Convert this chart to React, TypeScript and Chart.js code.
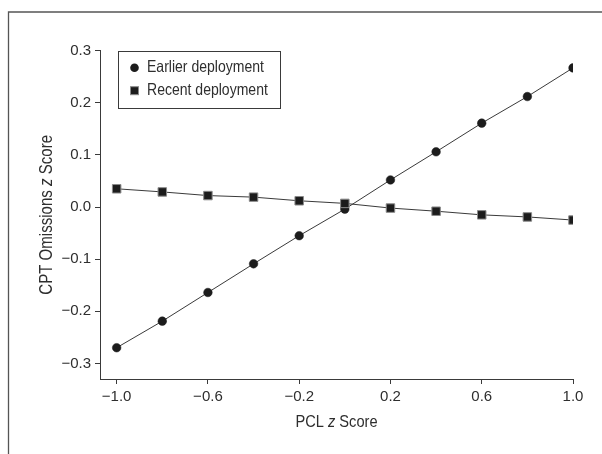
import React, { useEffect, useRef } from "react";
import { Chart, registerables } from "chart.js";

Chart.register(...registerables);

// ---- data ----
const pclZ = [-1.0, -0.8, -0.6, -0.4, -0.2, 0.0, 0.2, 0.4, 0.6, 0.8, 1.0];
const earlierDeployment = [-0.27, -0.219, -0.164, -0.109, -0.055, -0.004, 0.052, 0.106, 0.161, 0.212, 0.267];
const recentDeployment = [0.035, 0.029, 0.022, 0.019, 0.012, 0.007, -0.002, -0.008, -0.015, -0.019, -0.025];
const xTickValues = [-1.0, -0.6, -0.2, 0.2, 0.6, 1.0];
const yTickValues = [-0.3, -0.2, -0.1, 0.0, 0.1, 0.2, 0.3];
const seriesLabels = ["Earlier deployment", "Recent deployment"];
const xTitleParts = ["PCL ", "z", " Score"];
const yTitleParts = ["CPT Omissions ", "z", " Score"];

const FONT = "'Liberation Sans', Arial, Helvetica, sans-serif";
const TEXT = "#2e2e2e";
const LINE = "#3a3a3a";
const MARK = "#1c1c1c";

const fmt = (v: number) => {
  const s = Number(v).toFixed(1);
  return s.startsWith("-") ? "\u2212" + s.slice(1) : s;
};

// draws condensed text (horizontally squeezed) with an italic middle part, centred on (cx, cy)
function drawMixed(ctx: CanvasRenderingContext2D, parts: string[], size: number, squeeze: number, cx: number, cy: number) {
  const fonts = parts.map((_, i) => (i === 1 ? `italic ${size}px ${FONT}` : `${size}px ${FONT}`));
  const widths = parts.map((p, i) => {
    ctx.font = fonts[i];
    return ctx.measureText(p).width;
  });
  const total = widths.reduce((a, b) => a + b, 0);
  ctx.save();
  ctx.translate(cx, cy);
  ctx.scale(squeeze, 1);
  let x = -total / 2;
  ctx.textAlign = "left";
  ctx.textBaseline = "middle";
  ctx.fillStyle = TEXT;
  parts.forEach((p, i) => {
    ctx.font = fonts[i];
    ctx.fillText(p, x, 0);
    x += widths[i];
  });
  ctx.restore();
}

function drawSqueezed(ctx: CanvasRenderingContext2D, text: string, size: number, squeeze: number, x: number, y: number) {
  ctx.save();
  ctx.translate(x, y);
  ctx.scale(squeeze, 1);
  ctx.font = `${size}px ${FONT}`;
  ctx.fillStyle = TEXT;
  ctx.textAlign = "left";
  ctx.textBaseline = "middle";
  ctx.fillText(text, 0, 0);
  ctx.restore();
}

const decorPlugin = {
  id: "decor",
  beforeDraw(chart: any) {
    const ctx = chart.ctx as CanvasRenderingContext2D;
    ctx.save();
    ctx.fillStyle = "#ffffff";
    ctx.fillRect(0, 0, chart.width, chart.height);
    ctx.strokeStyle = "#555555";
    ctx.lineWidth = 1.3;
    ctx.beginPath();
    ctx.moveTo(8.5, chart.height);
    ctx.lineTo(8.5, 12);
    ctx.lineTo(chart.width, 12);
    ctx.stroke();
    ctx.restore();
  },
  afterDraw(chart: any) {
    const ctx = chart.ctx as CanvasRenderingContext2D;
    const a = chart.chartArea;
    ctx.save();
    // axis titles
    drawMixed(ctx, xTitleParts, 17, 0.86, (a.left + a.right) / 2, a.bottom + 43);
    ctx.save();
    ctx.translate(47, (a.top + a.bottom) / 2);
    ctx.rotate(-Math.PI / 2);
    drawMixed(ctx, yTitleParts, 17.5, 0.86, 0, 0);
    ctx.restore();

    // legend
    const lx = a.left + 17.5;
    const ly = a.top;
    const lw = 162;
    const lh = 57;
    ctx.fillStyle = "#ffffff";
    ctx.fillRect(lx, ly, lw, lh);
    ctx.strokeStyle = LINE;
    ctx.lineWidth = 1;
    ctx.strokeRect(Math.round(lx) + 0.5, Math.round(ly) + 0.5, lw, lh);
    const rows = [ly + 17, ly + 40];
    const mx = lx + 17;
    ctx.fillStyle = MARK;
    ctx.beginPath();
    ctx.arc(mx, rows[0], 4.3, 0, Math.PI * 2);
    ctx.fill();
    ctx.fillRect(mx - 4, rows[1] - 4, 8, 8);
    ctx.strokeStyle = "#8a8a8a";
    ctx.strokeRect(mx - 4, rows[1] - 4, 8, 8);
    drawSqueezed(ctx, seriesLabels[0], 16.5, 0.85, lx + 29.5, rows[0]);
    drawSqueezed(ctx, seriesLabels[1], 16.5, 0.85, lx + 29.5, rows[1]);
    ctx.restore();
  },
};

export default function App() {
  const ref = useRef<HTMLCanvasElement | null>(null);
  useEffect(() => {
    if (!ref.current) return;
    const tickFont = { family: FONT, size: 15 };
    const chart = new Chart(ref.current, {
      type: "line",
      data: {
        datasets: [
          {
            label: seriesLabels[0],
            data: pclZ.map((x, i) => ({ x, y: earlierDeployment[i] })),
            borderColor: LINE,
            borderWidth: 1,
            pointStyle: "circle",
            pointRadius: 4.3,
            pointBackgroundColor: MARK,
            pointBorderColor: MARK,
            pointBorderWidth: 0.5,
            order: 2,
          },
          {
            label: seriesLabels[1],
            data: pclZ.map((x, i) => ({ x, y: recentDeployment[i] })),
            borderColor: LINE,
            borderWidth: 1,
            pointStyle: "rect",
            pointRadius: 6,
            pointBackgroundColor: MARK,
            pointBorderColor: "#8a8a8a",
            pointBorderWidth: 1,
            order: 1,
          },
        ],
      },
      options: {
        responsive: false,
        animation: false,
        devicePixelRatio: 1,
        layout: { padding: { left: 0, right: 29, top: 50.7, bottom: 0 } },
        plugins: { legend: { display: false }, tooltip: { enabled: false } },
        scales: {
          x: {
            type: "linear",
            min: -1.073,
            max: 1.0,
            afterBuildTicks: (s: any) => {
              s.ticks = xTickValues.map((v) => ({ value: v }));
            },
            afterFit: (s: any) => {
              s.height = 75;
            },
            grid: { display: true, drawOnChartArea: false, drawTicks: true, tickLength: 5, color: LINE, lineWidth: 1 },
            border: { display: true, color: LINE, width: 1 },
            ticks: { font: tickFont, color: TEXT, padding: 4, maxRotation: 0, autoSkip: false, callback: (v: any) => fmt(v) },
          },
          y: {
            type: "linear",
            min: -0.33,
            max: 0.3,
            afterBuildTicks: (s: any) => {
              s.ticks = yTickValues.map((v) => ({ value: v }));
            },
            afterFit: (s: any) => {
              s.width = 100;
            },
            grid: { display: true, drawOnChartArea: false, drawTicks: true, tickLength: 5, color: LINE, lineWidth: 1 },
            border: { display: true, color: LINE, width: 1 },
            ticks: { font: tickFont, color: TEXT, padding: 4, autoSkip: false, callback: (v: any) => fmt(v) },
          },
        },
      },
      plugins: [decorPlugin],
    } as any);
    return () => chart.destroy();
  }, []);
  return (
    <div style={{ position: "absolute", left: 0, top: 0, width: 602, height: 454 }}>
      <canvas ref={ref} width={602} height={454} style={{ display: "block" }} />
    </div>
  );
}
